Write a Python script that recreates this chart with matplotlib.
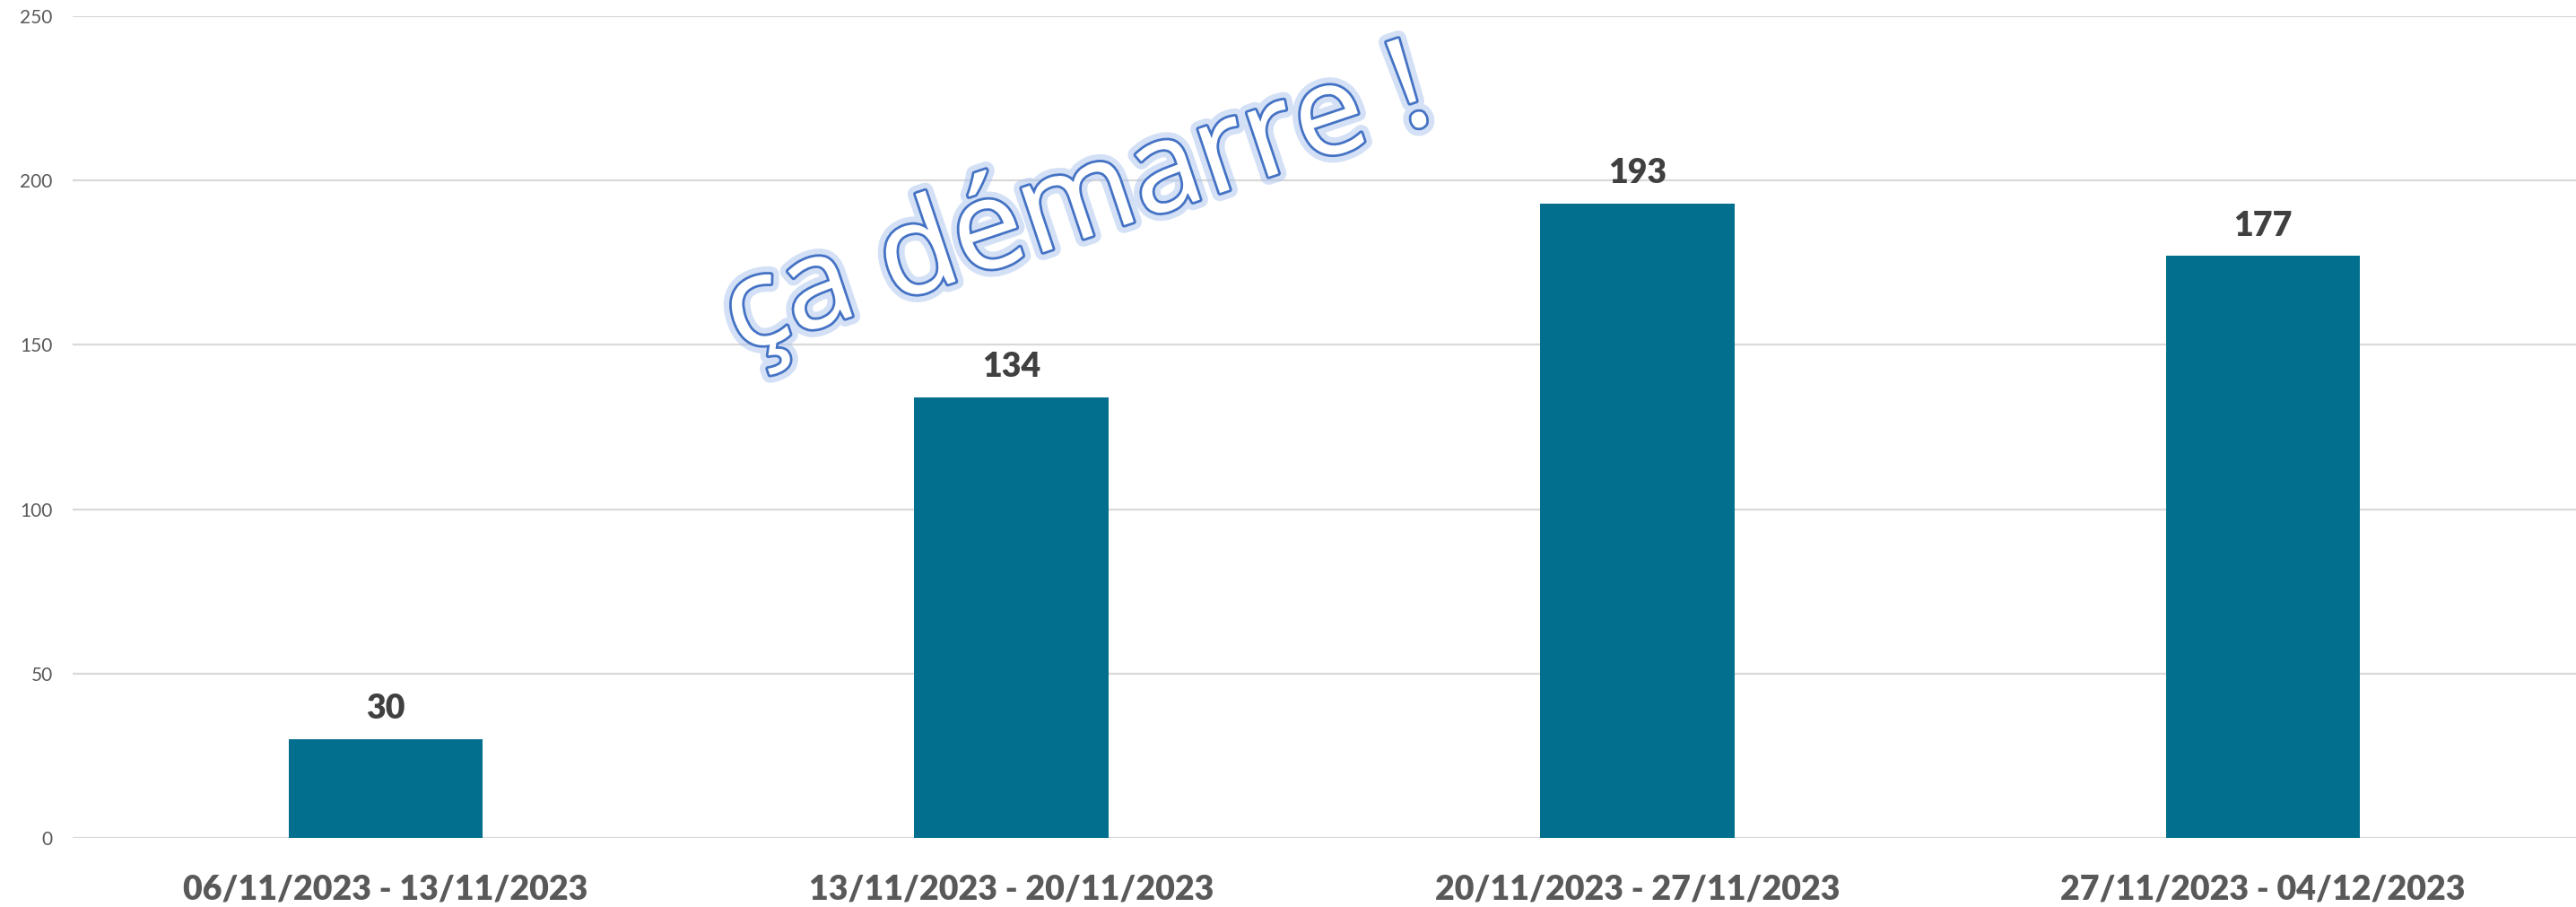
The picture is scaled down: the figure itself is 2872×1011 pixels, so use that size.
import matplotlib
matplotlib.use("Agg")
import matplotlib.pyplot as plt
import matplotlib.patheffects as pe

categories = ["06/11/2023 - 13/11/2023", "13/11/2023 - 20/11/2023",
              "20/11/2023 - 27/11/2023", "27/11/2023 - 04/12/2023"]
values = [30, 134, 193, 177]
yticks = [0, 50, 100, 150, 200, 250]
title_text = "ça démarre !"

W, H = 2872, 1011
fig = plt.figure(figsize=(W / 100, H / 100), dpi=100)
ax = fig.add_axes([81 / W, 77 / H, (W - 81) / W, (934 - 18) / H])

x = list(range(len(categories)))
ax.bar(x, values, width=0.31, color="#036F8F", zorder=3)
ax.set_xlim(-0.5, len(categories) - 0.5)
ax.set_ylim(0, 250)
ax.set_yticks(yticks)
ax.set_yticklabels([str(v) for v in yticks], fontsize=15, color="#595959",
                   family="Lato")
ax.set_xticks(x)
ax.set_xticklabels(categories, fontsize=27, fontweight="heavy", color="#595959",
                   family="Lato")
ax.tick_params(axis="both", length=0)
ax.tick_params(axis="y", pad=16)
ax.tick_params(axis="x", pad=29)
for s in ax.spines.values():
    s.set_visible(False)
ax.grid(axis="y", color="#D9D9D9", linewidth=1.6, zorder=0)
ax.set_axisbelow(True)

for xi, v in zip(x, values):
    ax.annotate(str(v), (xi, v), xytext=(0, 16.5), textcoords="offset points",
                ha="center", va="baseline", fontsize=27, fontweight="heavy",
                color="#404040", family="Lato")

fig.text(0.418, 0.773, title_text, fontsize=101, family="Open Sans",
         rotation=18.5, ha="center", va="center", color="white",
         path_effects=[pe.Stroke(linewidth=13, foreground="#A9C2EC", alpha=0.5),
                       pe.Stroke(linewidth=4, foreground="#4472C4"),
                       pe.Normal()])

fig.savefig("out.png", dpi=100, facecolor="white")
